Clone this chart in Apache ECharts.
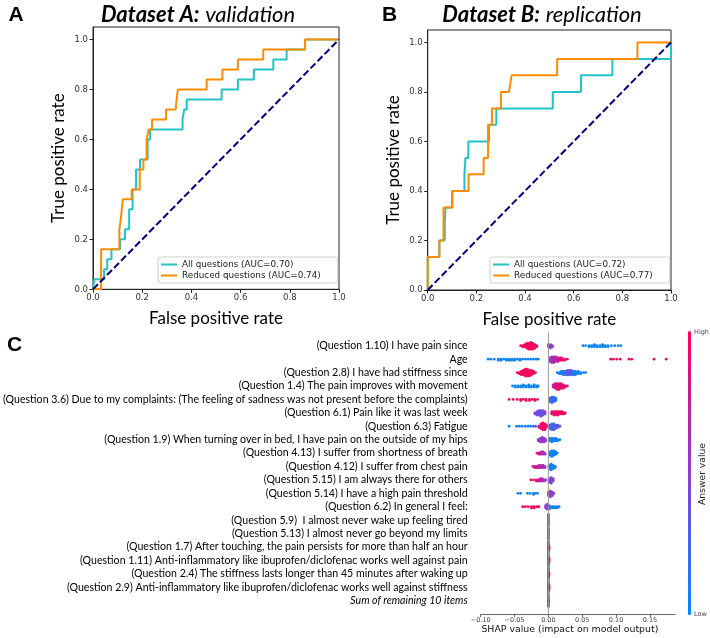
<!DOCTYPE html>
<html><head><meta charset="utf-8">
<script src="https://cdn.jsdelivr.net/npm/echarts@6/dist/echarts.min.js"></script>
<style>html,body{margin:0;padding:0;background:#fff}#c{width:710px;height:638px}</style>
</head><body><div id="c"></div>
<script>
// ---------- ROC data (fpr, tpr vertices) ----------
const rocTicks = [0, 0.2, 0.4, 0.6, 0.8, 1.0];
const rocA_all = [[0,0],[0.005,0.04],[0.045,0.04],[0.045,0.08],[0.058,0.08],[0.058,0.12],[0.075,0.12],[0.075,0.16],[0.11,0.16],[0.11,0.2],[0.13,0.2],[0.13,0.24],[0.147,0.24],[0.147,0.32],[0.161,0.32],[0.161,0.4],[0.175,0.4],[0.175,0.48],[0.191,0.48],[0.191,0.52],[0.222,0.52],[0.222,0.6],[0.232,0.6],[0.232,0.64],[0.364,0.64],[0.364,0.68],[0.371,0.68],[0.371,0.72],[0.381,0.72],[0.381,0.76],[0.523,0.76],[0.523,0.8],[0.589,0.8],[0.589,0.84],[0.654,0.84],[0.654,0.88],[0.733,0.88],[0.733,0.92],[0.787,0.92],[0.787,0.96],[0.862,0.96],[0.862,1.0],[1,1]];
const rocA_red = [[0,0],[0.033,0],[0.033,0.16],[0.107,0.16],[0.107,0.24],[0.113,0.24],[0.113,0.28],[0.121,0.28],[0.121,0.36],[0.157,0.36],[0.157,0.4],[0.19,0.4],[0.19,0.48],[0.205,0.48],[0.205,0.52],[0.218,0.52],[0.218,0.6],[0.226,0.6],[0.226,0.64],[0.24,0.64],[0.24,0.68],[0.297,0.68],[0.297,0.72],[0.336,0.72],[0.34,0.76],[0.345,0.8],[0.462,0.8],[0.462,0.84],[0.526,0.84],[0.526,0.88],[0.589,0.88],[0.589,0.92],[0.692,0.92],[0.692,0.96],[0.862,0.96],[0.862,1.0],[1,1]];
const rocB_all = [[0,0],[0,0.133],[0.048,0.133],[0.048,0.2],[0.07,0.2],[0.07,0.267],[0.073,0.267],[0.073,0.333],[0.101,0.333],[0.101,0.4],[0.151,0.4],[0.151,0.467],[0.155,0.533],[0.167,0.533],[0.167,0.6],[0.252,0.6],[0.252,0.667],[0.282,0.667],[0.282,0.733],[0.514,0.733],[0.514,0.8],[0.63,0.8],[0.63,0.867],[0.759,0.867],[0.759,0.933],[1,0.933],[1,1]];
const rocB_red = [[0,0],[0,0.133],[0.048,0.133],[0.048,0.2],[0.065,0.2],[0.065,0.333],[0.101,0.333],[0.101,0.4],[0.168,0.4],[0.168,0.467],[0.23,0.467],[0.23,0.533],[0.248,0.533],[0.248,0.667],[0.264,0.667],[0.264,0.733],[0.301,0.733],[0.301,0.8],[0.334,0.8],[0.345,0.867],[0.532,0.867],[0.532,0.933],[0.862,0.933],[0.862,1],[1,1]];
const chanceLine = [[0,0],[1,1]];
const legendA = ['All questions (AUC=0.70)', 'Reduced questions (AUC=0.74)'];
const legendB = ['All questions (AUC=0.72)', 'Reduced questions (AUC=0.77)'];

// ---------- SHAP data ----------
const shapFeatures = [
  '(Question 1.10) I have pain since',
  'Age',
  '(Question 2.8) I have had stiffness since',
  '(Question 1.4) The pain improves with movement',
  '(Question 3.6) Due to my complaints: (The feeling of sadness was not present before the complaints)',
  '(Question 6.1) Pain like it was last week',
  '(Question 6.3) Fatigue',
  '(Question 1.9) When turning over in bed, I have pain on the outside of my hips',
  '(Question 4.13) I suffer from shortness of breath',
  '(Question 4.12) I suffer from chest pain',
  '(Question 5.15) I am always there for others',
  '(Question 5.14) I have a high pain threshold',
  '(Question 6.2) In general I feel:',
  '(Question 5.9)  I almost never wake up feeling tired',
  '(Question 5.13) I almost never go beyond my limits',
  '(Question 1.7) After touching, the pain persists for more than half an hour',
  '(Question 1.11) Anti-inflammatory like ibuprofen/diclofenac works well against pain',
  '(Question 2.4) The stiffness lasts longer than 45 minutes after waking up',
  '(Question 2.9) Anti-inflammatory like ibuprofen/diclofenac works well against stiffness',
  'Sum of remaining 10 items'
];
const shapTicks = [-0.10, -0.05, 0, 0.05, 0.10, 0.15];
// each entry: [SHAP value, answer value (0 low .. 1 high), number of dots at that value]
const shapRows = [
  [[-0.041,0.95,1],[-0.038,0.95,2],[-0.035,0.95,3],[-0.032,0.95,5],[-0.029,0.95,6],[-0.026,0.95,7],[-0.023,0.95,6],[-0.020,0.9,4],[-0.017,0.9,2],
   [0.000,0.55,3],[0.003,0.5,4],[0.006,0.55,2],
   [0.051,0.05,1],[0.055,0.05,1],[0.060,0.05,2],[0.064,0.05,2],[0.068,0.05,3],[0.072,0.05,2],[0.076,0.05,2],[0.080,0.05,3],[0.084,0.05,2],[0.088,0.05,2],[0.093,0.05,1],[0.098,0.05,1],[0.103,0.05,1],[0.107,0.05,1]],
  [[-0.089,0.05,1],[-0.085,0.05,1],[-0.080,0.05,1],[-0.074,0.05,2],[-0.070,0.05,2],[-0.066,0.05,1],[-0.062,0.05,2],[-0.058,0.05,2],[-0.054,0.05,2],[-0.050,0.05,2],[-0.046,0.05,1],[-0.042,0.05,2],[-0.038,0.05,1],[-0.034,0.05,1],[-0.030,0.05,1],[-0.026,0.05,1],[-0.022,0.05,1],[-0.018,0.05,1],[-0.015,0.05,1],
   [0.002,0.5,4],[0.005,0.6,6],[0.008,0.7,6],[0.011,0.65,5],[0.014,0.8,4],[0.017,0.85,3],[0.020,0.9,3],[0.024,0.9,2],[0.028,0.95,1],
   [0.092,0.95,1],[0.096,0.95,1],[0.101,0.95,1],[0.106,0.95,1],[0.119,0.95,1],[0.123,0.95,1],[0.156,0.95,1],[0.174,0.95,1]],
  [[-0.046,0.95,1],[-0.043,0.95,2],[-0.040,0.95,4],[-0.037,0.95,5],[-0.034,0.95,7],[-0.031,0.95,7],[-0.028,0.95,6],[-0.025,0.95,5],[-0.022,0.95,3],[-0.019,0.9,1],
   [0.013,0.05,1],[0.016,0.05,2],[0.019,0.05,3],[0.022,0.1,4],[0.025,0.2,4],[0.028,0.3,5],[0.031,0.35,5],[0.034,0.3,5],[0.037,0.1,4],[0.040,0.05,4],[0.044,0.05,3],[0.048,0.05,2],[0.052,0.05,1],[0.055,0.05,1]],
  [[-0.053,0.05,1],[-0.049,0.05,2],[-0.045,0.05,2],[-0.041,0.05,2],[-0.037,0.05,3],[-0.033,0.05,2],[-0.029,0.05,3],[-0.025,0.05,2],[-0.021,0.05,3],[-0.017,0.05,2],[-0.015,0.05,1],
   [0.007,0.7,3],[0.010,0.8,5],[0.013,0.85,6],[0.016,0.9,6],[0.019,0.9,5],[0.022,0.9,4],[0.025,0.9,2],[0.028,0.95,1]],
  [[-0.058,0.95,1],[-0.052,0.95,1],[-0.046,0.95,1],[-0.041,0.95,2],[-0.037,0.95,1],[-0.033,0.95,2],[-0.028,0.95,2],[-0.024,0.95,1],[-0.020,0.95,2],[-0.016,0.95,1],
   [0.002,0.3,4],[0.005,0.2,6],[0.008,0.25,5],[0.011,0.15,3]],
  [[-0.020,0.4,2],[-0.017,0.45,4],[-0.014,0.4,5],[-0.011,0.35,6],[-0.008,0.4,5],[-0.005,0.45,3],
   [0.005,0.85,3],[0.008,0.9,4],[0.011,0.9,4],[0.014,0.95,4],[0.017,0.95,3],[0.020,0.95,3],[0.023,0.95,2],[0.025,0.95,1]],
  [[-0.058,0.05,1],[-0.047,0.05,1],[-0.043,0.05,1],[-0.039,0.05,1],[-0.034,0.05,1],[-0.030,0.05,1],[-0.026,0.05,1],[-0.022,0.1,1],[-0.019,0.5,1],
   [-0.014,0.85,2],[-0.011,0.9,5],[-0.008,0.95,7],[-0.005,0.95,6],[-0.003,0.9,3],
   [0.002,0.4,4],[0.005,0.3,6],[0.008,0.2,6],[0.011,0.3,4],[0.014,0.35,3],[0.017,0.3,1]],
  [[-0.015,0.55,2],[-0.012,0.55,4],[-0.009,0.5,5],[-0.006,0.5,4],[-0.004,0.55,2],
   [0.002,0.1,3],[0.005,0.05,4],[0.008,0.05,3],[0.011,0.05,3],[0.014,0.05,2],[0.017,0.05,1]],
  [[-0.017,0.9,1],[-0.014,0.85,2],[-0.011,0.75,3],[-0.008,0.6,3],[-0.005,0.55,2],
   [0.002,0.05,4],[0.005,0.05,6],[0.008,0.05,5],[0.011,0.05,3],[0.013,0.05,1]],
  [[-0.023,0.8,1],[-0.020,0.7,2],[-0.017,0.85,2],[-0.014,0.6,3],[-0.011,0.75,3],[-0.008,0.6,3],[-0.005,0.55,2],
   [0.001,0.05,4],[0.004,0.05,6],[0.007,0.05,4],[0.010,0.05,2]],
  [[-0.026,0.95,1],[-0.022,0.9,1],[-0.018,0.8,2],[-0.015,0.9,2],[-0.012,0.7,3],[-0.009,0.6,3],[-0.006,0.55,2],[-0.004,0.5,1],
   [0.001,0.5,4],[0.004,0.45,6],[0.007,0.5,3]],
  [[-0.045,0.05,1],[-0.041,0.05,1],[-0.031,0.05,1],[-0.027,0.05,1],[-0.022,0.05,2],[-0.019,0.05,1],[-0.016,0.1,1],
   [0.000,0.5,4],[0.003,0.55,6],[0.006,0.5,4],[0.008,0.55,1]],
  [[-0.038,0.95,1],[-0.034,0.95,1],[-0.030,0.95,1],[-0.025,0.95,2],[-0.021,0.95,2],[-0.017,0.95,1],[-0.014,0.95,1],
   [-0.004,0.5,3],[-0.002,0.5,5],[0.001,0.45,4],
   [0.004,0.05,2],[0.007,0.05,2],[0.010,0.05,2],[0.013,0.05,2],[0.016,0.05,1]],
  [[0,0.05,11]],
  [[0,0.05,11]],
  [[0,0.05,11],[0.0008,0.95,4]],
  [[0,0.05,11],[0.0008,0.95,5]],
  [[0,0.05,11],[0.0008,0.95,4]],
  [[0,0.05,11],[0.0008,0.95,5]],
  [[0,0.05,11],[0.0005,0.5,2]]
];
// rows are placed at positions 1..20 on the (inverted) vertical axis
const zeroLine = [[0,0],[0,21]];

// ---------- build beeswarm layout (stack dots sharing a value) ----------
const STEP = 0.085;
const shapPoints = [];
shapRows.forEach((row, r) => {
  row.forEach(([x, c, n]) => {
    for (let k = 0; k < n; k++) {
      const o = k === 0 ? 0 : (k % 2 ? 1 : -1) * Math.ceil(k / 2);
      shapPoints.push([x, r + 1 + o * STEP, c]);
    }
  });
});

const CYAN = '#22c3c6', ORANGE = '#ff8c00', NAVY = '#000080';
const tickFont = {fontFamily: 'DejaVu Sans', fontSize: 8.5, color: '#333'};
const nameFont = {fontFamily: 'Lato', fontSize: 17, color: '#000'};

function rocX(gi) {
  return {
    gridIndex: gi, type: 'value', min: 0, max: 1,
    axisLine: {show: true, onZero: false, lineStyle: {color: '#222', width: 1}},
    axisTick: {show: true, length: 3.5, customValues: rocTicks, lineStyle: {color: '#222'}},
    axisLabel: Object.assign({margin: 4, customValues: rocTicks, formatter: v => v.toFixed(1)}, tickFont),
    splitLine: {show: false},
    name: 'False positive rate', nameLocation: 'middle', nameGap: 21, nameTextStyle: nameFont
  };
}
function rocY(gi) {
  return {
    gridIndex: gi, type: 'value', min: 0, max: 1.05,
    axisLine: {show: true, onZero: false, lineStyle: {color: '#222', width: 1}},
    axisTick: {show: true, length: 3.5, customValues: rocTicks, lineStyle: {color: '#222'}},
    axisLabel: Object.assign({margin: 5, customValues: rocTicks, formatter: v => v.toFixed(1)}, tickFont),
    splitLine: {show: false},
    name: 'True positive rate', nameLocation: 'middle', nameGap: 26, nameTextStyle: nameFont
  };
}
function rocLine(name, data, color, gi) {
  return {type: 'line', name, data, xAxisIndex: gi, yAxisIndex: gi, symbol: 'none', showSymbol: false,
    lineStyle: {color, width: 2}, itemStyle: {color}, silent: true};
}
function chance(gi) {
  return {type: 'line', data: chanceLine, xAxisIndex: gi, yAxisIndex: gi, symbol: 'none', silent: true,
    lineStyle: {color: NAVY, width: 2, type: [7, 3]}, itemStyle: {color: NAVY}};
}
function legend(names, left) {
  return {data: names, left, top: 257, orient: 'vertical', selectedMode: false,
    icon: 'rect', itemWidth: 16, itemHeight: 2, itemGap: 0, itemTextGap: 3,
    padding: [2, 17, 2, 3], borderColor: '#cfcfcf', borderWidth: 1, borderRadius: 3, backgroundColor: '#fff',
    textStyle: {fontFamily: 'DejaVu Sans', fontSize: 8.8, color: '#222', lineHeight: 11}};
}

const titleRich = {
  b: {fontFamily: 'Lato', fontSize: 22, fontWeight: 'bold', fontStyle: 'italic', fill: '#000'},
  i: {fontFamily: 'Lato', fontSize: 22, fontStyle: 'italic', fill: '#000'}
};

const chart = echarts.init(document.getElementById('c'), null, {renderer: 'canvas'});
chart.setOption({
  animation: false,
  backgroundColor: '#fff',
  textStyle: {fontFamily: 'Lato'},
  grid: [
    {left: 93, right: 371, top: 27, bottom: 348.7, show: true, borderColor: '#222', borderWidth: 1},
    {left: 427.7, right: 39, top: 30, bottom: 348, show: true, borderColor: '#222', borderWidth: 1},
    {left: 479.3, right: 35, top: 332.3, bottom: 23.9}
  ],
  legend: [legend(legendA, 158), legend(legendB, 490)],
  xAxis: [rocX(0), rocX(1), {
    gridIndex: 2, type: 'value', min: -0.1, max: 0.187,
    axisLine: {show: true, onZero: false, lineStyle: {color: '#666', width: 1}},
    axisTick: {show: true, length: 3, customValues: shapTicks, lineStyle: {color: '#666'}},
    axisLabel: {margin: 3, customValues: shapTicks, fontFamily: 'DejaVu Sans', fontSize: 6.5, color: '#444',
      formatter: v => (v < -1e-9 ? '\u2212' : '') + Math.abs(v).toFixed(2)},
    splitLine: {show: false},
    name: 'SHAP value (impact on model output)', nameLocation: 'middle', nameGap: 11,
    nameTextStyle: {fontFamily: 'DejaVu Sans', fontSize: 9.4, color: '#111', padding: [0, 16, 0, 0]}
  }],
  yAxis: [rocY(0), rocY(1), {
    gridIndex: 2, type: 'value', inverse: true, min: 0, max: 21, interval: 1,
    axisLine: {show: false, onZero: false}, axisTick: {show: false},
    axisLabel: {margin: 13, fontFamily: 'Lato', fontSize: 10.6, color: '#000',
      formatter: v => { const i = Math.round(v) - 1; if (i < 0 || i > 19) return ''; return i === 19 ? '{it|' + shapFeatures[i] + '}' : shapFeatures[i]; },
      rich: {it: {fontFamily: 'Lato', fontSize: 10.6, fontStyle: 'italic', color: '#000'}}},
    splitLine: {show: false}
  }],
  visualMap: {
    type: 'continuous', min: 0, max: 1, dimension: 2, seriesIndex: 7,
    orient: 'vertical', left: 688, top: 331, itemWidth: 3, itemHeight: 284, padding: 0,
    calculable: false, hoverLink: false, text: null, showLabel: false,
    inRange: {color: ['#008bfb', '#8a3ddb', '#ff0052']}
  },
  series: [
    rocLine(legendA[0], rocA_all, CYAN, 0),
    rocLine(legendA[1], rocA_red, ORANGE, 0),
    chance(0),
    rocLine(legendB[0], rocB_all, CYAN, 1),
    rocLine(legendB[1], rocB_red, ORANGE, 1),
    chance(1),
    {type: 'line', data: zeroLine, xAxisIndex: 2, yAxisIndex: 2, symbol: 'none', silent: true,
     lineStyle: {color: '#999', width: 1}, itemStyle: {color: '#999'}},
    {type: 'scatter', data: shapPoints, xAxisIndex: 2, yAxisIndex: 2, symbolSize: 2.8, silent: true,
     itemStyle: {opacity: 1}}
  ],
  graphic: [
    {type: 'text', x: 16, y: 15, style: {text: 'A', fontFamily: 'Liberation Sans', fontWeight: 'bold', fontSize: 21, fill: '#000', align: 'center', verticalAlign: 'middle'}},
    {type: 'text', x: 389.5, y: 15, style: {text: 'B', fontFamily: 'Liberation Sans', fontWeight: 'bold', fontSize: 21, fill: '#000', align: 'center', verticalAlign: 'middle'}},
    {type: 'text', x: 14.5, y: 345.5, style: {text: 'C', fontFamily: 'Liberation Sans', fontWeight: 'bold', fontSize: 21, fill: '#000', align: 'center', verticalAlign: 'middle'}},
    {type: 'text', x: 198, y: 15, style: {text: '{b|Dataset A:} {i|validation}', fontFamily: 'Lato', fontSize: 22, fill: '#000', align: 'center', verticalAlign: 'middle', rich: titleRich}},
    {type: 'text', x: 542, y: 15, style: {text: '{b|Dataset B:} {i|replication}', fontFamily: 'Lato', fontSize: 22, fill: '#000', align: 'center', verticalAlign: 'middle', rich: titleRich}},
    {type: 'text', x: 694, y: 332, style: {text: 'High', fontFamily: 'DejaVu Sans', fontSize: 6.5, fill: '#444', align: 'left', verticalAlign: 'middle'}},
    {type: 'text', x: 694, y: 614, style: {text: 'Low', fontFamily: 'DejaVu Sans', fontSize: 6.5, fill: '#444', align: 'left', verticalAlign: 'middle'}},
    {type: 'text', x: 703, y: 474, rotation: Math.PI / 2, style: {text: 'Answer value', fontFamily: 'DejaVu Sans', fontSize: 9.2, fill: '#222', align: 'center', verticalAlign: 'middle'}}
  ]
});
</script></body></html>
